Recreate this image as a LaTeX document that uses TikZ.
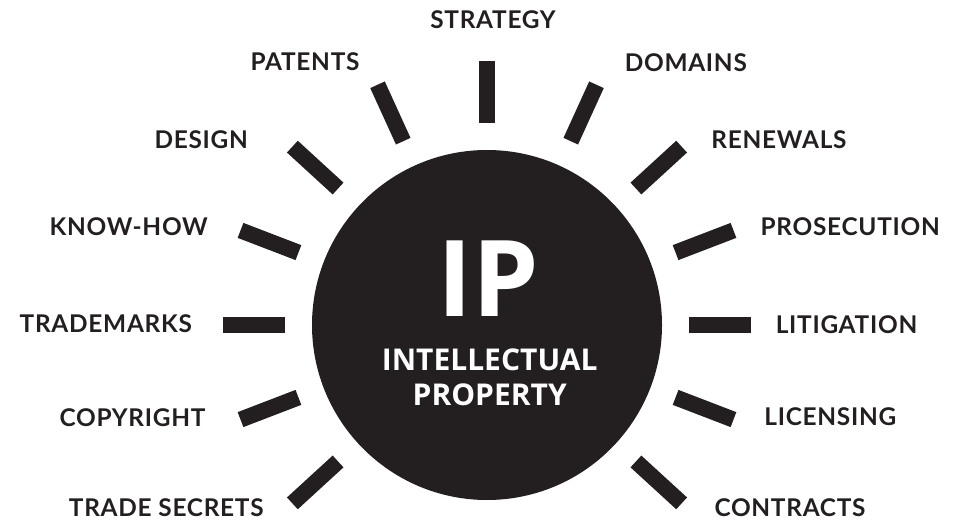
\documentclass[tikz,border=0pt]{standalone}
\usepackage{fontspec}
\setmainfont{Lato}
\newfontfamily\labfont{Lato}[LetterSpace=3]
\newfontfamily\centerfont{Open Sans}
\usetikzlibrary{calc}
\definecolor{ink}{HTML}{231F20}
\tikzset{
  ray/.style={draw=ink, line width=16pt, line cap=butt},
  lab/.style={text=ink, inner sep=0pt, anchor=base, font=\labfont\fontsize{24.4}{28}\selectfont\bfseries},
  mid/.style={text=white, inner sep=0pt, anchor=base}
}
\begin{document}
\begin{tikzpicture}[x=1pt,y=1pt]
\useasboundingbox (0,0) rectangle (965,520);
\node[circle, fill=ink, minimum size=350pt, inner sep=0pt] (ip) at (487,195) {};
\node[mid, font=\centerfont\fontsize{106}{110}\selectfont\bfseries] (iptxt) at (488.7,204) {IP};
\node[mid, font=\centerfont\fontsize{30}{34}\selectfont\bfseries] (intel) at (489.7,150) {INTELLECTUAL};
\node[mid, font=\centerfont\fontsize{30}{34}\selectfont\bfseries] (prop) at (489.7,114.3) {PROPERTY};
\foreach \a in {0,21,42.5,65.5,90,114.5,137.5,159,180,201,222.5,-21,-42.5}
  \draw[ray] ($(ip.center)+(\a:202)$) -- ($(ip.center)+(\a:264)$);
\node[lab] (strategy) at (493,491.7) {STRATEGY};
\node[lab] (patents) at (305,449) {PATENTS};
\node[lab] (design) at (201.2,371) {DESIGN};
\node[lab] (knowhow) at (128.7,284) {KNOW-HOW};
\node[lab] (trademarks) at (105.8,187.3) {TRADEMARKS};
\node[lab] (copyright) at (132.5,94) {COPYRIGHT};
\node[lab] (secrets) at (166.3,3.6) {TRADE SECRETS};
\node[lab] (domains) at (685.8,448.3) {DOMAINS};
\node[lab] (renewals) at (779,371) {RENEWALS};
\node[lab] (prosecution) at (850.2,284.3) {PROSECUTION};
\node[lab] (litigation) at (846.5,187) {LITIGATION};
\node[lab] (licensing) at (830.3,94.3) {LICENSING};
\node[lab] (contracts) at (790,3.6) {CONTRACTS};
\end{tikzpicture}
\end{document}
